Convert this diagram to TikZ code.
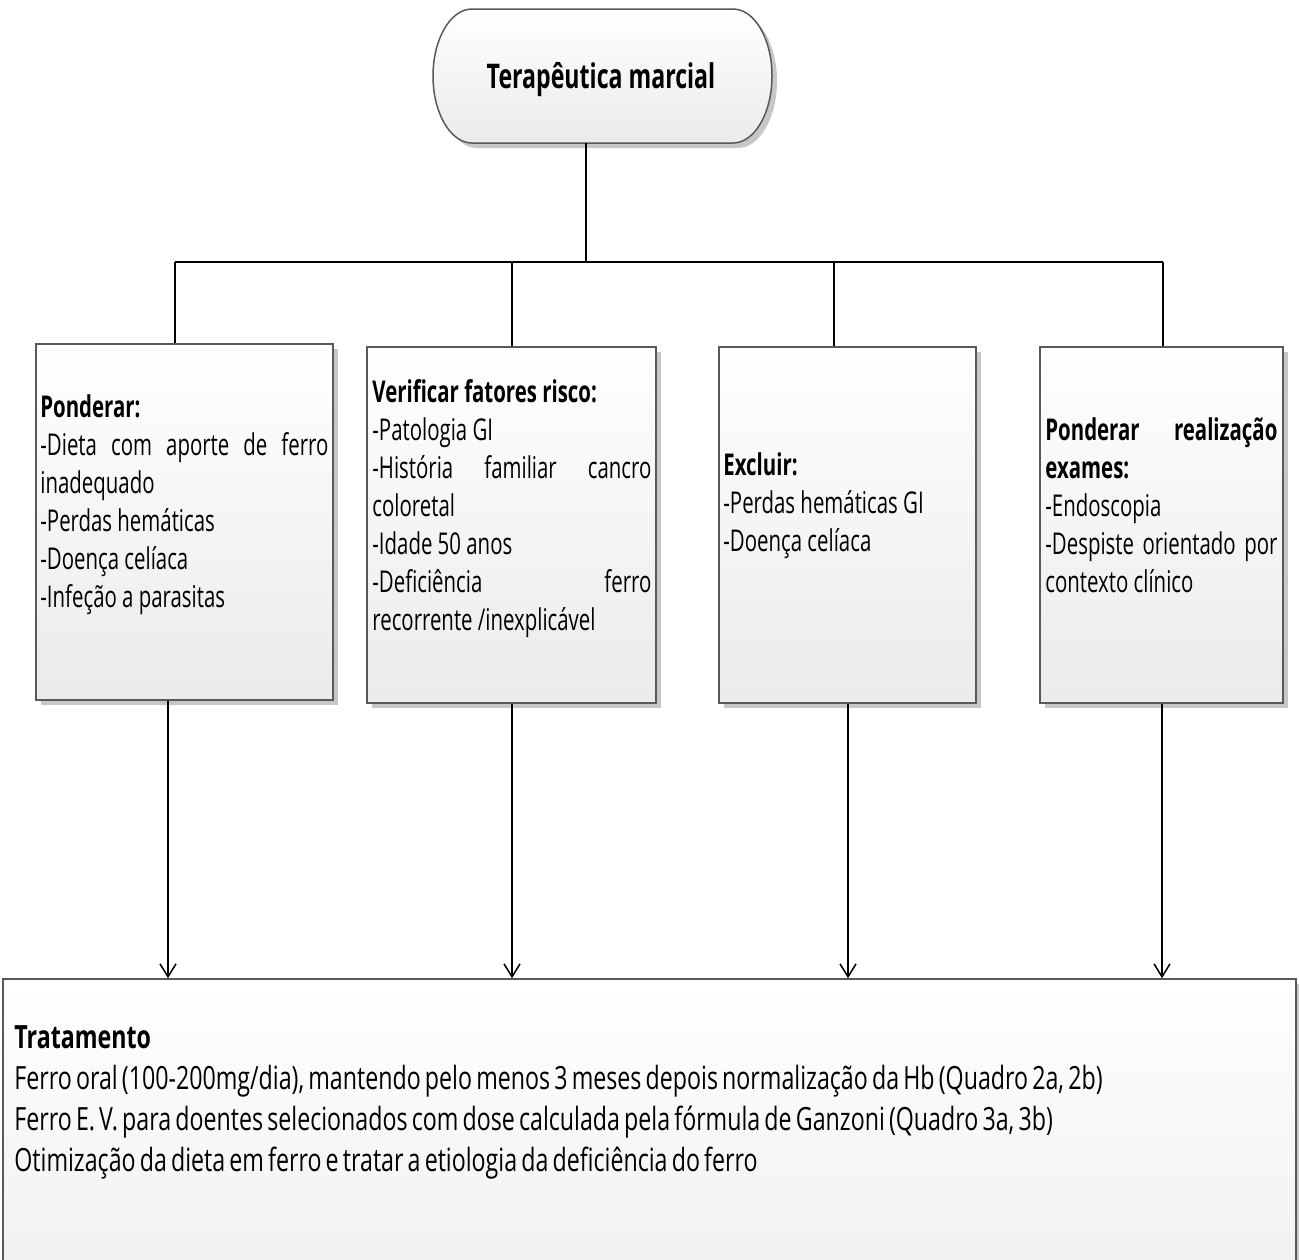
\documentclass[tikz,border=0pt]{standalone}
\usepackage{fontspec}
\setmainfont{Open Sans}[FakeStretch=0.68]
\newfontfamily\botfont{Open Sans}[FakeStretch=0.725]
\usetikzlibrary{shadows,arrows.meta}
\newcommand{\mytightspace}{\spaceskip=0.69\fontdimen2\font\relax}
\begin{document}
\frenchspacing
\begin{tikzpicture}[x=0.5pt,y=-0.5pt,
  fillstyle/.style={draw=black!65, line width=0.75pt, top color=white, bottom color=black!8,
    drop shadow={shadow xshift=2.5pt, shadow yshift=-2.5pt, fill=black!22, opacity=1}},
  boxstyle/.style={fillstyle, inner sep=0pt, minimum height=178pt},
  txt/.style={anchor=north west, inner sep=0pt, align=justify,
    font=\fontsize{15pt}{19pt}\selectfont,
    execute at begin node={\setlength{\parindent}{0pt}\hyphenpenalty=10000\exhyphenpenalty=10000\strut}},
  conn/.style={draw=black, line width=0.75pt},
  arr/.style={conn, -{Straight Barb[length=6.5pt,width=8pt,line width=0.75pt]}}
]
\fill[white] (0,0) rectangle (1299,1259);
\useasboundingbox (0,0) rectangle (1299,1259);
\clip (0,0) rectangle (1299,1259);

% top terminator
\path[fillstyle] (472,9) -- (733,9)
  arc[start angle=-90, end angle=90, x radius=39, y radius=67] -- (472,143)
  arc[start angle=90, end angle=270, x radius=39, y radius=67] -- cycle;
\node[inner sep=0pt, minimum width=169.5pt, minimum height=67pt] (pill) at (602.5,76) {};
\node[anchor=base, inner sep=0pt, font=\fontsize{17pt}{19pt}\selectfont\bfseries] (ptext) at (601,88) {Terapêutica marcial};

% boxes
\node[boxstyle, minimum width=148.5pt] (b1) at (184.5,522) {};
\node[boxstyle, minimum width=144.5pt] (b2) at (511.5,525) {};
\node[boxstyle, minimum width=128.5pt] (b3) at (847.5,525) {};
\node[boxstyle, minimum width=121.5pt] (b4) at (1161.5,525) {};

% bottom box
\node[boxstyle, minimum width=646.5pt, minimum height=210.5pt] (bot) at (649.5,1189.5) {};

% box texts
\node[txt, text width=144pt] (t1) at (40,390.4) {\textbf{Ponderar:}\par
-Dieta com aporte de ferro\linebreak inadequado\par
-Perdas hemáticas\par
-Doença celíaca\par
-Infeção a parasitas};

\node[txt, text width=139.5pt] (t2) at (372,375.4) {\textbf{Verificar fatores risco:}\par
-Patologia GI\par
-História familiar cancro\linebreak coloretal\par
-Idade 50 anos\par
-Deficiência ferro\linebreak recorrente /inexplicável};

\node[txt, text width=124pt] (t3) at (723,448.4) {\textbf{Excluir:}\par
-Perdas hemáticas GI\par
-Doença celíaca};

\node[txt, text width=116pt] (t4) at (1045,413.4) {\textbf{Ponderar realização\linebreak exames:}\par
-Endoscopia\par
-Despiste orientado por\linebreak contexto clínico};

\node[txt, align=left, text width=635pt, font=\botfont\fontsize{16pt}{20.5pt}\selectfont] (t5) at (14,1019.3) {\mytightspace\textbf{Tratamento}\par
Ferro oral (100-200mg/dia), mantendo pelo menos 3 meses depois normalização da Hb (Quadro 2a, 2b)\par
Ferro E. V. para doentes selecionados com dose calculada pela fórmula de Ganzoni (Quadro 3a, 3b)\par
Otimização da dieta em ferro e tratar a etiologia da deficiência do ferro};

% connectors
\coordinate (hub) at (586,262);
\coordinate (j1) at (175,262);
\coordinate (j2) at (512,262);
\coordinate (j3) at (834,262);
\coordinate (j4) at (1163,262);
\draw[conn] (pill.south -| hub) -- (hub);
\draw[conn] (j1) -- (j4);
\draw[conn] (j1) -- (j1 |- b1.north);
\draw[conn] (j2) -- (j2 |- b2.north);
\draw[conn] (j3) -- (j3 |- b3.north);
\draw[conn] (j4) -- (j4 |- b4.north);

\coordinate (x1) at (168,0);
\coordinate (x2) at (512,0);
\coordinate (x3) at (848,0);
\coordinate (x4) at (1162,0);
\draw[arr] (b1.south -| x1) -- (bot.north -| x1);
\draw[arr] (b2.south -| x2) -- (bot.north -| x2);
\draw[arr] (b3.south -| x3) -- (bot.north -| x3);
\draw[arr] (b4.south -| x4) -- (bot.north -| x4);
\end{tikzpicture}
\end{document}
